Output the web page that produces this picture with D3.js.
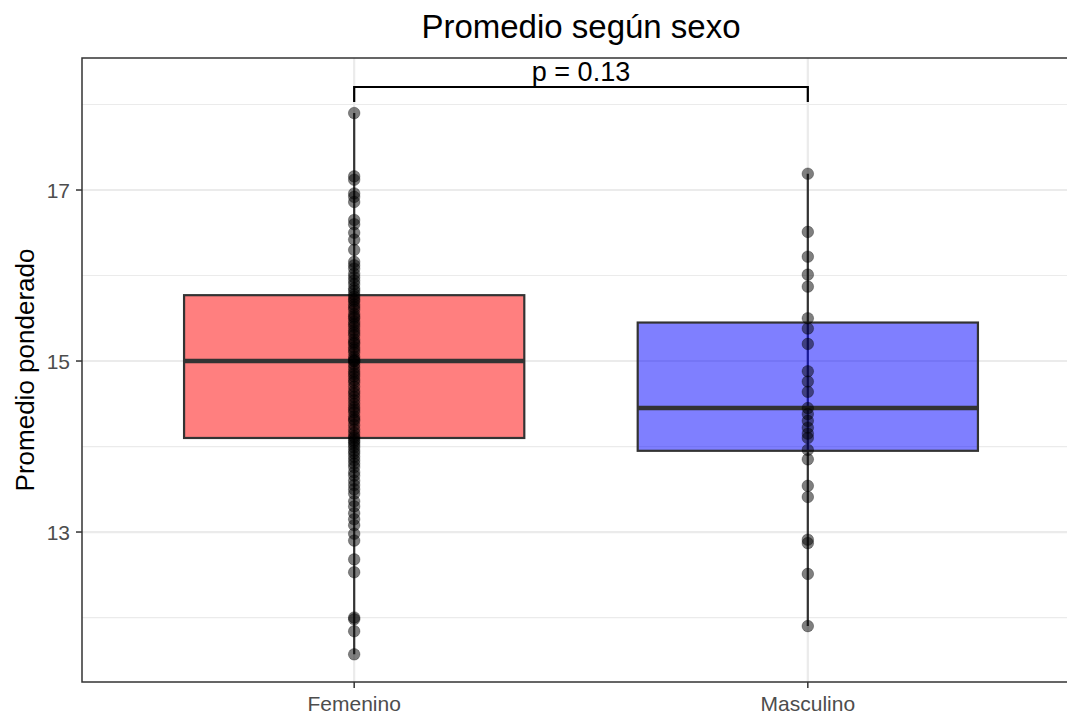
<!DOCTYPE html>
<html>
<head>
<meta charset="utf-8">
<script src="https://cdn.jsdelivr.net/npm/d3@7"></script>
<style>
  html, body { margin: 0; padding: 0; background: #fff; }
  svg { display: block; font-family: "Liberation Sans", Arial, sans-serif; }
</style>
</head>
<body>
<svg id="chart" width="1067" height="718"></svg>
<script>
// Groups and box statistics
const categories = ["Femenino", "Masculino"];
const boxFill = ["#FF0000", "#0000FF"];
const whiskerLow = [11.57, 11.90];
const q1 = [14.10, 13.95];
const median = [15.00, 14.45];
const q3 = [15.77, 15.45];
const whiskerHigh = [17.90, 17.19];

// Individual averages per group
const femenino = [
  17.90, 17.16, 17.12, 16.96, 16.92, 16.86, 16.65, 16.60, 16.50, 16.42,
  16.30, 16.16, 16.12, 16.08, 16.02, 15.98, 15.94, 15.90, 15.85, 15.82,
  15.78, 15.75, 15.72, 15.70, 15.66, 15.63, 15.60, 15.55, 15.52, 15.50,
  15.46, 15.43, 15.40, 15.36, 15.33, 15.30, 15.25, 15.22, 15.20, 15.16,
  15.13, 15.10, 15.05, 15.02, 15.00, 15.00, 14.96, 14.92, 14.88, 14.85,
  14.82, 14.78, 14.75, 14.70, 14.65, 14.62, 14.58, 14.54, 14.50, 14.46,
  14.43, 14.40, 14.35, 14.32, 14.30, 14.25, 14.20, 14.16, 14.12, 14.10,
  14.07, 14.05, 14.02, 13.99, 13.95, 13.92, 13.88, 13.84, 13.80, 13.76,
  13.70, 13.66, 13.60, 13.55, 13.50, 13.45, 13.36, 13.30, 13.22, 13.15,
  13.08, 12.98, 12.90, 12.68, 12.53, 12.00, 11.98, 11.84, 11.57
];
const masculino = [
  17.19, 16.51, 16.22, 16.01, 15.87, 15.50, 15.38, 15.20, 14.88, 14.76,
  14.64, 14.45, 14.38, 14.30, 14.22, 14.15, 14.10, 13.96, 13.85, 13.54,
  13.41, 12.91, 12.87, 12.51, 11.90
];
const seriesValues = [femenino, masculino];

const yTicks = [13, 15, 17];
const yMinor = [12, 14, 16, 18];
const pLabel = "p = 0.13";
const titleText = "Promedio según sexo";
const yTitle = "Promedio ponderado";

const svg = d3.select("#chart");
const panel = { left: 82, right: 1080, top: 58, bottom: 682 };

// Discrete positions 1..n with ggplot-style 0.6 expansion
const x = d3.scaleLinear().domain([0.4, 2.6]).range([panel.left, panel.right]);
const y = d3.scaleLinear().domain([11.246, 18.544]).range([panel.bottom, panel.top]);
const boxW = x(1.75) - x(1);

svg.append("defs").append("clipPath").attr("id", "panelClip")
  .append("rect")
  .attr("x", panel.left).attr("y", panel.top)
  .attr("width", panel.right - panel.left).attr("height", panel.bottom - panel.top);

const g = svg.append("g").attr("clip-path", "url(#panelClip)");

// Grid
g.selectAll(".ymin").data(yMinor).join("line")
  .attr("x1", panel.left).attr("x2", panel.right)
  .attr("y1", d => y(d)).attr("y2", d => y(d))
  .attr("stroke", "#EBEBEB").attr("stroke-width", 1.2);
g.selectAll(".ymaj").data(yTicks).join("line")
  .attr("x1", panel.left).attr("x2", panel.right)
  .attr("y1", d => y(d)).attr("y2", d => y(d))
  .attr("stroke", "#EBEBEB").attr("stroke-width", 2.2);
g.selectAll(".xmaj").data(categories).join("line")
  .attr("x1", (d, i) => x(i + 1)).attr("x2", (d, i) => x(i + 1))
  .attr("y1", panel.top).attr("y2", panel.bottom)
  .attr("stroke", "#EBEBEB").attr("stroke-width", 2.2);

// Whiskers
g.selectAll(".whisk").data(categories).join("line")
  .attr("x1", (d, i) => x(i + 1)).attr("x2", (d, i) => x(i + 1))
  .attr("y1", (d, i) => y(whiskerLow[i])).attr("y2", (d, i) => y(whiskerHigh[i]))
  .attr("stroke", "#333333").attr("stroke-width", 2.2);

// Boxes
g.selectAll(".box").data(categories).join("rect")
  .attr("x", (d, i) => x(i + 1) - boxW / 2)
  .attr("width", boxW)
  .attr("y", (d, i) => y(q3[i]))
  .attr("height", (d, i) => y(q1[i]) - y(q3[i]))
  .attr("fill", (d, i) => boxFill[i]).attr("fill-opacity", 0.5)
  .attr("stroke", "#333333").attr("stroke-width", 2.2);

// Medians
g.selectAll(".med").data(categories).join("line")
  .attr("x1", (d, i) => x(i + 1) - boxW / 2).attr("x2", (d, i) => x(i + 1) + boxW / 2)
  .attr("y1", (d, i) => y(median[i])).attr("y2", (d, i) => y(median[i]))
  .attr("stroke", "#333333").attr("stroke-width", 4.5);

// Points
seriesValues.forEach((vals, i) => {
  g.selectAll(".pt" + i).data(vals).join("circle")
    .attr("cx", x(i + 1)).attr("cy", d => y(d)).attr("r", 5.8)
    .attr("fill", "#000").attr("fill-opacity", 0.5)
    .attr("stroke", "#000").attr("stroke-opacity", 0.3).attr("stroke-width", 1);
});

// Significance bracket
const brY = 87, brDrop = 102;
svg.append("path")
  .attr("d", `M${x(1)},${brDrop}V${brY}H${x(2)}V${brDrop}`)
  .attr("fill", "none").attr("stroke", "#000").attr("stroke-width", 2.2);
svg.append("text")
  .attr("x", (x(1) + x(2)) / 2).attr("y", 81)
  .attr("text-anchor", "middle").attr("font-size", 27).attr("fill", "#000")
  .text(pLabel);

// Panel border
svg.append("rect")
  .attr("x", panel.left).attr("y", panel.top)
  .attr("width", panel.right - panel.left).attr("height", panel.bottom - panel.top)
  .attr("fill", "none").attr("stroke", "#333333").attr("stroke-width", 1.5);

// Y axis
const yAxis = svg.append("g");
yAxis.selectAll("line").data(yTicks).join("line")
  .attr("x1", panel.left - 6).attr("x2", panel.left)
  .attr("y1", d => y(d)).attr("y2", d => y(d))
  .attr("stroke", "#333333").attr("stroke-width", 1.5);
yAxis.selectAll("text").data(yTicks).join("text")
  .attr("x", panel.left - 12).attr("y", d => y(d)).attr("dy", "0.36em")
  .attr("text-anchor", "end").attr("font-size", 21).attr("fill", "#4D4D4D")
  .text(d => d);

// X axis
const xAxis = svg.append("g");
xAxis.selectAll("line").data(categories).join("line")
  .attr("x1", (d, i) => x(i + 1)).attr("x2", (d, i) => x(i + 1))
  .attr("y1", panel.bottom).attr("y2", panel.bottom + 6)
  .attr("stroke", "#333333").attr("stroke-width", 1.5);
xAxis.selectAll("text").data(categories).join("text")
  .attr("x", (d, i) => x(i + 1)).attr("y", 711)
  .attr("text-anchor", "middle").attr("font-size", 21).attr("fill", "#4D4D4D")
  .text(d => d);

// Titles
svg.append("text")
  .attr("x", (panel.left + panel.right) / 2).attr("y", 38)
  .attr("text-anchor", "middle").attr("font-size", 33).attr("fill", "#000")
  .text(titleText);
svg.append("text")
  .attr("transform", `translate(34,${(panel.top + panel.bottom) / 2}) rotate(-90)`)
  .attr("text-anchor", "middle").attr("font-size", 26).attr("fill", "#000")
  .text(yTitle);
</script>
</body>
</html>
